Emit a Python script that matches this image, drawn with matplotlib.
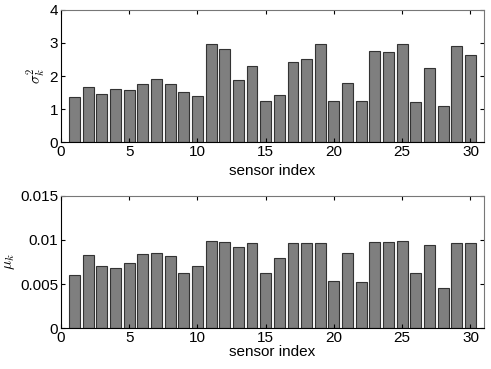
import numpy as np
import matplotlib
matplotlib.use('Agg')
import matplotlib.pyplot as plt

sensor_index = np.arange(1, 31)
sigma_sq = [1.36, 1.68, 1.46, 1.60, 1.58, 1.76, 1.92, 1.77, 1.52, 1.40,
            2.96, 2.81, 1.87, 2.31, 1.25, 1.42, 2.42, 2.53, 2.97, 1.23,
            1.80, 1.24, 2.76, 2.74, 2.96, 1.21, 2.23, 1.08, 2.91, 2.63]
mu = [0.0060, 0.0083, 0.0070, 0.0068, 0.0074, 0.0084, 0.0085, 0.0082, 0.0063, 0.0070,
      0.0099, 0.0098, 0.0092, 0.0096, 0.0063, 0.0080, 0.0096, 0.0096, 0.0097, 0.0053,
      0.0085, 0.0052, 0.0098, 0.0098, 0.0099, 0.0062, 0.0094, 0.0045, 0.0097, 0.0097]

plt.rcParams['font.family'] = ['Liberation Sans', 'DejaVu Sans']
plt.rcParams['font.size'] = 11
plt.rcParams['mathtext.fontset'] = 'cm'

fig = plt.figure(figsize=(4.91, 3.69), dpi=100)
ax1 = fig.add_axes([0.124, 0.615, 0.862, 0.358])
ax2 = fig.add_axes([0.124, 0.111, 0.862, 0.358])

for ax, vals, ylim, yticks, ylabels, ylab, xpad in [
        (ax1, sigma_sq, 4, [0, 1, 2, 3, 4], ['0', '1', '2', '3', '4'], r'$\sigma_k^2$', 4),
        (ax2, mu, 0.015, [0, 0.005, 0.01, 0.015], ['0', '0.005', '0.01', '0.015'], r'$\mu_k$', 0)]:
    ax.bar(sensor_index, vals, width=0.8, color='#7f7f7f', edgecolor='#333333', linewidth=0.8)
    ax.set_xlim(0, 31)
    ax.set_ylim(0, ylim)
    ax.set_xticks([0, 5, 10, 15, 20, 25, 30])
    ax.set_yticks(yticks)
    ax.set_yticklabels(ylabels)
    ax.tick_params(direction='in', top=True, right=True, length=3, pad=2)
    for side in ['top', 'right']:
        ax.spines[side].set_color('#777777')
    ax.set_xlabel('sensor index', labelpad=xpad)
    ax.set_ylabel(ylab, labelpad=2)

fig.savefig('out.png', dpi=100)
